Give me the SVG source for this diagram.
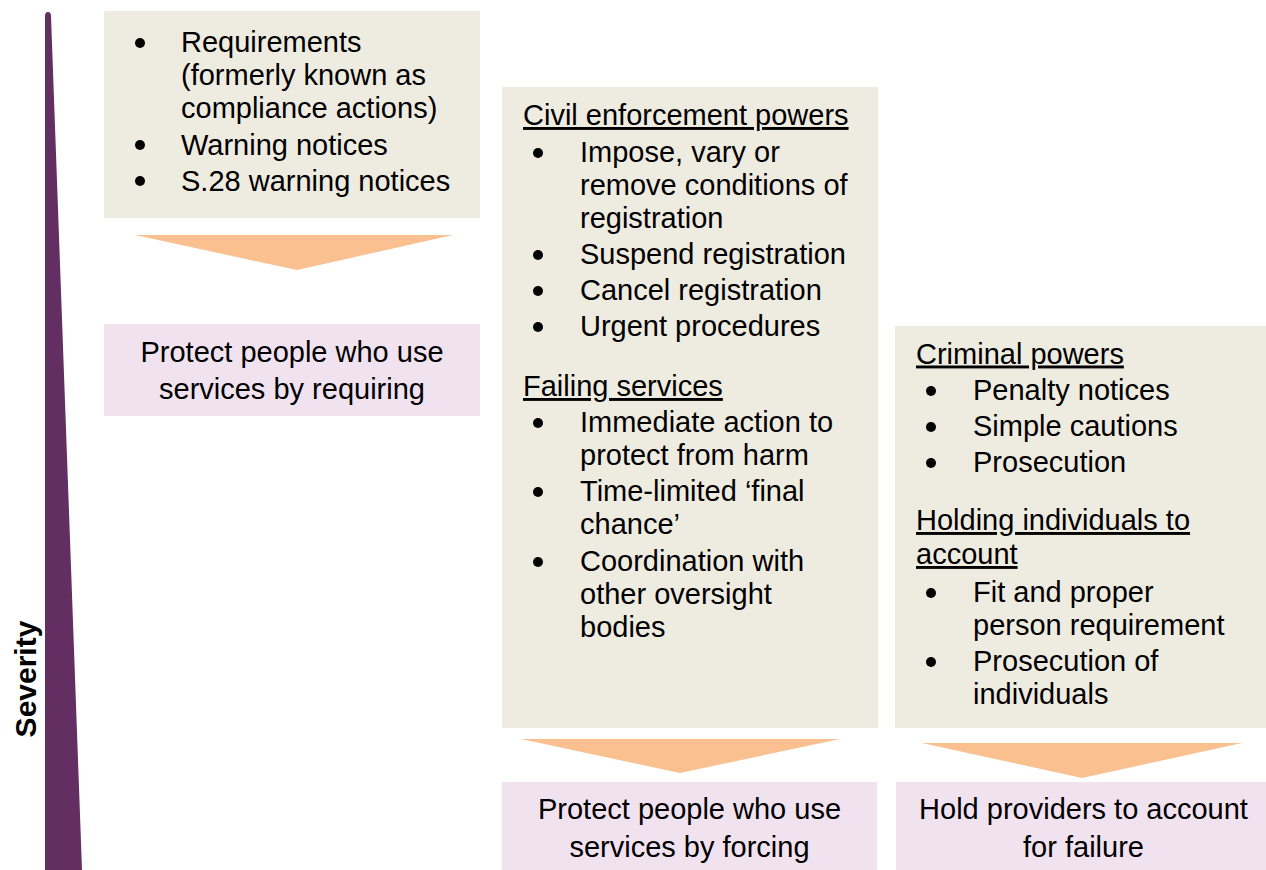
<svg xmlns="http://www.w3.org/2000/svg" width="1266" height="870" viewBox="0 0 1266 870">
<style>
.box{fill:#EEEBE1}
.res{fill:#F1E2F0}
.arr{fill:#FAC090}
text{font-family:"Liberation Sans",Arial,sans-serif;font-size:29px;fill:#000}
.c{text-anchor:middle}
.h{text-decoration:underline}
.sev{font-weight:bold;font-size:30px;text-anchor:middle}
.dot{fill:#000}
</style>
<rect width="1266" height="870" fill="#fff"/>
<g id="severity">
<path d="M45,870 L45,16 Q45,12 48,12 Q51,12 51,16 L82,870 Z" fill="#632E62"/>
<text class="sev" transform="translate(36,679) rotate(-90)">Severity</text>
</g>
<g id="box1">
<rect class="box" x="104" y="11" width="376" height="207"/>
<circle class="dot" cx="140" cy="43" r="5"/>
<circle class="dot" cx="140" cy="145" r="5"/>
<circle class="dot" cx="140" cy="181" r="5"/>
<text x="181" y="52">Requirements</text>
<text x="181" y="85">(formerly known as</text>
<text x="181" y="118">compliance actions)</text>
<text x="181" y="155">Warning notices</text>
<text x="181" y="191">S.28 warning notices</text>
</g>
<g id="box2">
<rect class="box" x="502" y="87" width="376" height="641"/>
<text class="h" x="523" y="125">Civil enforcement powers</text>
<circle class="dot" cx="538" cy="153" r="5"/>
<circle class="dot" cx="538" cy="255" r="5"/>
<circle class="dot" cx="538" cy="291" r="5"/>
<circle class="dot" cx="538" cy="327" r="5"/>
<text x="580" y="162">Impose, vary or</text>
<text x="580" y="195">remove conditions of</text>
<text x="580" y="228">registration</text>
<text x="580" y="264">Suspend registration</text>
<text x="580" y="300">Cancel registration</text>
<text x="580" y="336">Urgent procedures</text>
<text class="h" x="523" y="396">Failing services</text>
<circle class="dot" cx="538" cy="423" r="5"/>
<circle class="dot" cx="538" cy="492" r="5"/>
<circle class="dot" cx="538" cy="562" r="5"/>
<text x="580" y="432">Immediate action to</text>
<text x="580" y="465">protect from harm</text>
<text x="580" y="501">Time-limited ‘final</text>
<text x="580" y="534">chance’</text>
<text x="580" y="571">Coordination with</text>
<text x="580" y="604">other oversight</text>
<text x="580" y="637">bodies</text>
</g>
<g id="box3">
<rect class="box" x="895" y="326" width="371" height="402"/>
<text class="h" x="916" y="363.5">Criminal powers</text>
<circle class="dot" cx="931" cy="391" r="5"/>
<circle class="dot" cx="931" cy="427" r="5"/>
<circle class="dot" cx="931" cy="463" r="5"/>
<text x="973" y="400">Penalty notices</text>
<text x="973" y="436">Simple cautions</text>
<text x="973" y="472">Prosecution</text>
<text class="h" x="916" y="530">Holding individuals to</text>
<text class="h" x="916" y="564">account</text>
<circle class="dot" cx="931" cy="593" r="5"/>
<circle class="dot" cx="931" cy="662" r="5"/>
<text x="973" y="601.5">Fit and proper</text>
<text x="973" y="634.5">person requirement</text>
<text x="973" y="670.5">Prosecution of</text>
<text x="973" y="703.5">individuals</text>
</g>
<g id="outcome1">
<rect class="res" x="104" y="324" width="376" height="92"/>
<text class="c" x="292" y="361.5">Protect people who use</text>
<text class="c" x="292" y="398.5">services by requiring</text>
</g>
<g id="outcome2">
<rect class="res" x="502" y="782" width="375" height="88"/>
<text class="c" x="689.5" y="819">Protect people who use</text>
<text class="c" x="689.5" y="857">services by forcing</text>
</g>
<g id="outcome3">
<rect class="res" x="896" y="782" width="370" height="88"/>
<text class="c" x="1083.5" y="819">Hold providers to account</text>
<text class="c" x="1083.5" y="857">for failure</text>
</g>
<g id="connectors">
<polygon class="arr" points="135,235 453,235 297,270"/>
<polygon class="arr" points="521,739 840,739 680,773"/>
<polygon class="arr" points="922,743 1242,743 1082,778"/>
</g>
</svg>
